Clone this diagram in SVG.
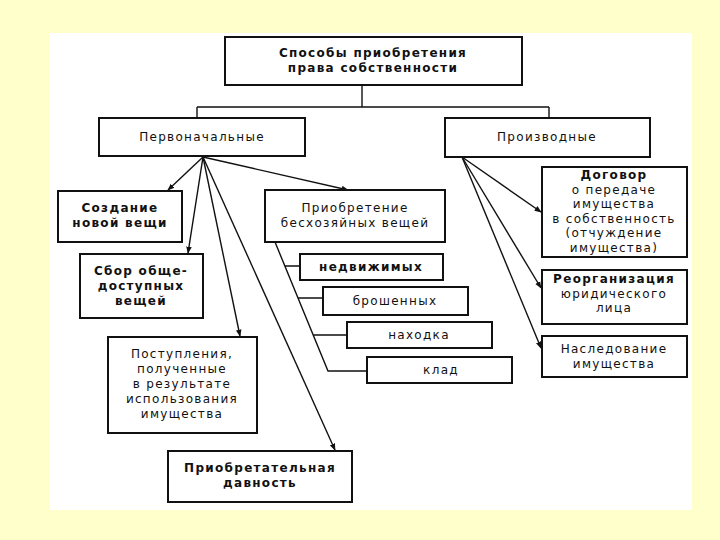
<svg xmlns="http://www.w3.org/2000/svg" width="720" height="540" viewBox="0 0 720 540">
<style>
.box{fill:#fff;stroke:#111;stroke-width:2}
.t{font-family:"DejaVu Sans",sans-serif;font-size:12px;fill:#111;text-anchor:middle;letter-spacing:1.3px}
.b{font-weight:bold}
.ln{fill:none;stroke:#111;stroke-width:1.4}
.ar{fill:none;stroke:#111;stroke-width:1.4;marker-end:url(#ah)}
</style>
<defs>
<marker id="ah" viewBox="0 0 10 10" refX="9" refY="5" markerWidth="7" markerHeight="7" orient="auto" markerUnits="userSpaceOnUse">
<path d="M0,1 L10,5 L0,9 z" fill="#111"/>
</marker>
</defs>
<rect width="720" height="540" fill="#FFFFCC"/>
<rect x="50" y="33" width="642" height="477" fill="#fff"/>
<g id="connectors">
<path class="ln" d="M362,85 V107 M197,107 H549 M197,107 V118 M549,107 V118"/>
<path class="ar" d="M203,157 L168,190"/>
<path class="ar" d="M203,157 L188,253"/>
<path class="ar" d="M203,157 L240,336"/>
<path class="ar" d="M203,157 L335,450"/>
<path class="ar" d="M203,157 L348,190"/>
<path class="ar" d="M462,157 L541,212"/>
<path class="ar" d="M462,157 L541,288"/>
<path class="ar" d="M462,157 L541,348"/>
<path class="ln" d="M275,242 L328,371 H367 M285,266 H300 M298,298 H323 M313,335 H347"/>
</g>
<g id="n-top"><rect class="box" x="225" y="37" width="297" height="48"/>
<text class="t b" x="373" y="57">Способы приобретения</text>
<text class="t b" x="373" y="72">права собственности</text></g>
<g id="n-perv"><rect class="box" x="99" y="118" width="206" height="38"/>
<text class="t" x="202" y="141">Первоначальные</text></g>
<g id="n-proizv"><rect class="box" x="445" y="118" width="205" height="39"/>
<text class="t" x="547" y="141">Производные</text></g>
<g id="n-sozd"><rect class="box" x="58" y="191" width="124" height="51"/>
<text class="t b" x="120" y="212">Создание</text>
<text class="t b" x="120" y="227">новой вещи</text></g>
<g id="n-sbor"><rect class="box" x="80" y="254" width="123" height="64"/>
<text class="t b" x="141" y="275">Сбор обще-</text>
<text class="t b" x="141" y="290">доступных</text>
<text class="t b" x="141" y="305">вещей</text></g>
<g id="n-post"><rect class="box" x="108" y="337" width="149" height="96"/>
<text class="t" x="182" y="358">Поступления,</text>
<text class="t" x="182" y="373">полученные</text>
<text class="t" x="182" y="388">в результате</text>
<text class="t" x="182" y="403">использования</text>
<text class="t" x="182" y="418">имущества</text></g>
<g id="n-davn"><rect class="box" x="168" y="451" width="184" height="51"/>
<text class="t b" x="260" y="472">Приобретательная</text>
<text class="t b" x="260" y="487">давность</text></g>
<g id="n-besh"><rect class="box" x="265" y="190" width="180" height="52"/>
<text class="t" x="355" y="212">Приобретение</text>
<text class="t" x="355" y="227">бесхозяйных вещей</text></g>
<g id="n-nedv"><rect class="box" x="300" y="254" width="143" height="26"/>
<text class="t b" x="371" y="271">недвижимых</text></g>
<g id="n-brosh"><rect class="box" x="323" y="287" width="145" height="28"/>
<text class="t" x="395" y="305">брошенных</text></g>
<g id="n-nah"><rect class="box" x="347" y="322" width="145" height="26"/>
<text class="t" x="419" y="339">находка</text></g>
<g id="n-klad"><rect class="box" x="367" y="357" width="145" height="26"/>
<text class="t" x="441" y="374">клад</text></g>
<g id="n-dog"><rect class="box" x="542" y="167" width="145" height="90"/>
<text class="t b" x="614" y="179">Договор</text>
<text class="t" x="614" y="193.5">о передаче</text>
<text class="t" x="614" y="208">имущества</text>
<text class="t" x="614" y="222.5">в собственность</text>
<text class="t" x="614" y="237">(отчуждение</text>
<text class="t" x="614" y="251.5">имущества)</text></g>
<g id="n-reorg"><rect class="box" x="542" y="270" width="145" height="54"/>
<text class="t b" x="614" y="283">Реорганизация</text>
<text class="t" x="614" y="297.5">юридического</text>
<text class="t" x="614" y="312">лица</text></g>
<g id="n-nasl"><rect class="box" x="542" y="336" width="145" height="41"/>
<text class="t" x="614" y="353">Наследование</text>
<text class="t" x="614" y="367.5">имущества</text></g>
</svg>
